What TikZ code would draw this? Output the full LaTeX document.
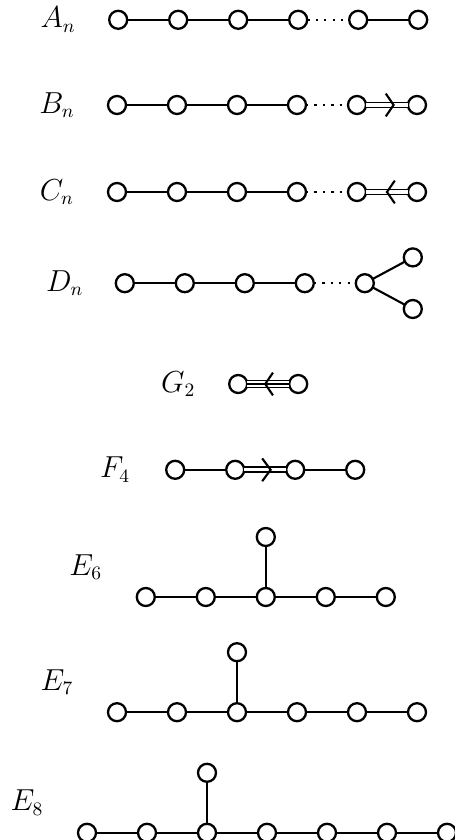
\documentclass[tikz,border=0pt]{standalone}
\usetikzlibrary{positioning, calc}

\begin{document}
\begin{tikzpicture}[
    node distance=1cm, on grid,
    vert/.style={draw, circle, minimum size=0.3cm, inner sep=0pt, outer sep=0pt,
                 line width=1.1pt, fill=white},
    lbl/.style={font=\fontsize{13.5pt}{16pt}\selectfont},
    bond/.style={line width=1pt},
    dbond/.style={double, double distance=1.5pt, line width=0.9pt},
    tbond/.style={double, double distance=2.4pt, line width=0.8pt},
    dotsline/.style={line width=1.1pt, dash pattern=on 1.1pt off 2.9pt}
]
\useasboundingbox (0,0) rectangle (7.583,-14);

% A_n
\node[vert] (a1) at (1.97,-0.33) {};
\node[vert, right=of a1] (a2) {};
\node[vert, right=of a2] (a3) {};
\node[vert, right=of a3] (a4) {};
\node[vert, right=of a4] (a5) {};
\node[vert, right=of a5] (a6) {};
\node[lbl, left=of a1] (lA) {$A_n$};

% B_n
\node[vert] (b1) at (1.95,-1.75) {};
\node[vert, right=of b1] (b2) {};
\node[vert, right=of b2] (b3) {};
\node[vert, right=of b3] (b4) {};
\node[vert, right=of b4] (b5) {};
\node[vert, right=of b5] (b6) {};
\node[lbl, left=of b1] (lB) {$B_n$};

% C_n
\node[vert] (c1) at (1.95,-3.2) {};
\node[vert, right=of c1] (c2) {};
\node[vert, right=of c2] (c3) {};
\node[vert, right=of c3] (c4) {};
\node[vert, right=of c4] (c5) {};
\node[vert, right=of c5] (c6) {};
\node[lbl, left=of c1] (lC) {$C_n$};

% D_n
\node[vert] (d1) at (2.08,-4.72) {};
\node[vert, right=of d1] (d2) {};
\node[vert, right=of d2] (d3) {};
\node[vert, right=of d3] (d4) {};
\node[vert, right=of d4] (d5) {};
\node[vert, above right=0.43cm and 0.8cm of d5] (d6) {};
\node[vert, below right=0.43cm and 0.8cm of d5] (d7) {};
\node[lbl, left=of d1] (lD) {$D_n$};

% G_2
\node[vert] (g1) at (3.97,-6.4) {};
\node[vert, right=of g1] (g2) {};
\node[lbl, left=of g1] (lG) {$G_2$};

% F_4
\node[vert] (f1) at (2.92,-7.83) {};
\node[vert, right=of f1] (f2) {};
\node[vert, right=of f2] (f3) {};
\node[vert, right=of f3] (f4) {};
\node[lbl, left=of f1] (lF) {$F_4$};

% E_6
\node[vert] (s1) at (2.43,-9.95) {};
\node[vert, right=of s1] (s2) {};
\node[vert, right=of s2] (s3) {};
\node[vert, right=of s3] (s4) {};
\node[vert, right=of s4] (s5) {};
\node[vert, above=of s3] (s6) {};
\node[lbl, above left=0.5cm and 1cm of s1] (lE6) {$E_6$};

% E_7
\node[vert] (t1) at (1.95,-11.87) {};
\node[vert, right=of t1] (t2) {};
\node[vert, right=of t2] (t3) {};
\node[vert, right=of t3] (t4) {};
\node[vert, right=of t4] (t5) {};
\node[vert, right=of t5] (t6) {};
\node[vert, above=of t3] (t7) {};
\node[lbl, above left=0.5cm and 1cm of t1] (lE7) {$E_7$};

% E_8
\node[vert] (u1) at (1.45,-13.88) {};
\node[vert, right=of u1] (u2) {};
\node[vert, right=of u2] (u3) {};
\node[vert, right=of u3] (u4) {};
\node[vert, right=of u4] (u5) {};
\node[vert, right=of u5] (u6) {};
\node[vert, right=of u6] (u7) {};
\node[vert, above=of u3] (u8) {};
\node[lbl, above left=0.5cm and 1cm of u1] (lE8) {$E_8$};

% Bonds
\draw[bond] (a1) -- (a2) -- (a3) -- (a4);
\draw[dotsline] (a4) -- (a5);
\draw[bond] (a5) -- (a6);

\draw[bond] (b1) -- (b2) -- (b3) -- (b4);
\draw[dotsline] (b4) -- (b5);
\draw[dbond] (b5) -- (b6);
\draw[bond] ($(b5)!0.5!(b6)+(-0.02,0.19)$) -- ++(0.13,-0.19) -- ++(-0.13,-0.19);

\draw[bond] (c1) -- (c2) -- (c3) -- (c4);
\draw[dotsline] (c4) -- (c5);
\draw[dbond] (c5) -- (c6);
\draw[bond] ($(c5)!0.5!(c6)+(0.13,0.19)$) -- ++(-0.13,-0.19) -- ++(0.13,-0.19);

\draw[bond] (d1) -- (d2) -- (d3) -- (d4);
\draw[dotsline] (d4) -- (d5);
\draw[bond] (d5) -- (d6);
\draw[bond] (d5) -- (d7);

\draw[tbond] (g1) -- (g2);
\draw[line width=0.8pt] (g1) -- (g2);
\draw[bond] ($(g1)!0.5!(g2)+(0.08,0.19)$) -- ++(-0.13,-0.19) -- ++(0.13,-0.19);

\draw[bond] (f1) -- (f2);
\draw[dbond] (f2) -- (f3);
\draw[bond] ($(f2)!0.5!(f3)+(-0.05,0.19)$) -- ++(0.14,-0.19) -- ++(-0.14,-0.19);
\draw[bond] (f3) -- (f4);

\draw[bond] (s1) -- (s2) -- (s3) -- (s4) -- (s5);
\draw[bond] (s3) -- (s6);

\draw[bond] (t1) -- (t2) -- (t3) -- (t4) -- (t5) -- (t6);
\draw[bond] (t3) -- (t7);

\draw[bond] (u1) -- (u2) -- (u3) -- (u4) -- (u5) -- (u6) -- (u7);
\draw[bond] (u3) -- (u8);

\end{tikzpicture}
\end{document}
